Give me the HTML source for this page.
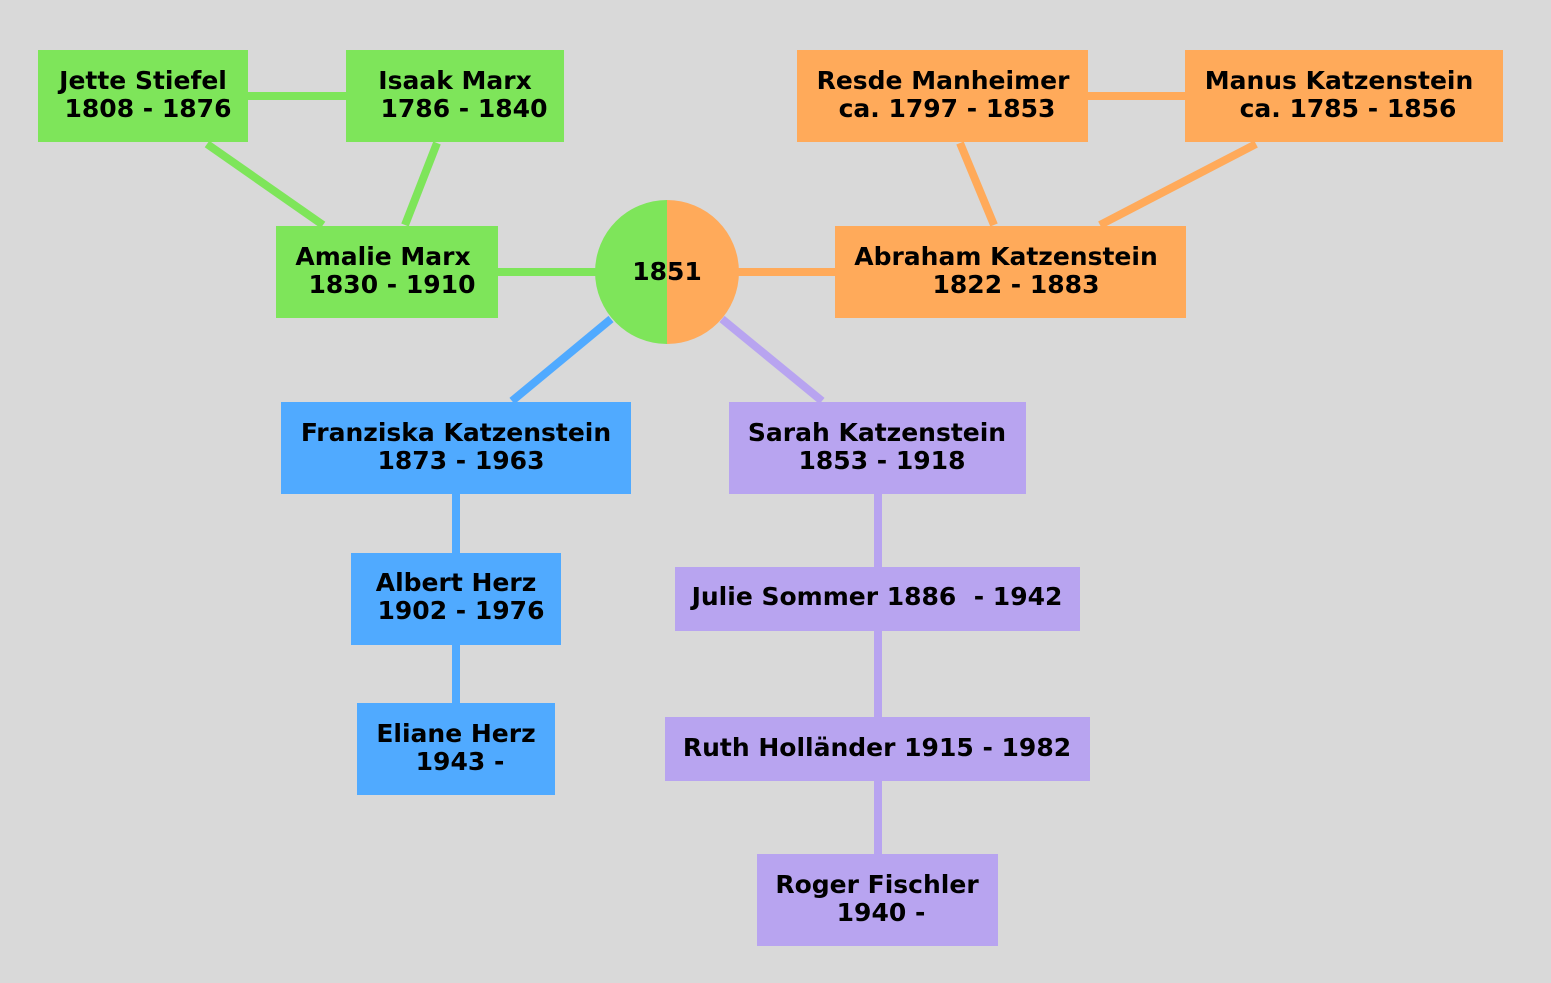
<!DOCTYPE html>
<html><head><meta charset="utf-8"><style>
html,body{margin:0;padding:0;background:#d9d9d9}
svg{display:block}
text{font-family:"DejaVu Sans","Liberation Sans",sans-serif;font-weight:bold;font-size:25px;fill:#000;text-anchor:middle}
</style></head><body>
<svg width="1551" height="983" viewBox="0 0 1551 983" xmlns="http://www.w3.org/2000/svg">
<rect width="1551" height="983" fill="#d9d9d9"/>
<g stroke-width="8" fill="none">
<line x1="248" y1="96" x2="346" y2="96" stroke="#7ee55a"/>
<line x1="207" y1="144" x2="323" y2="225" stroke="#7ee55a"/>
<line x1="437" y1="143" x2="405" y2="225" stroke="#7ee55a"/>
<line x1="498" y1="272" x2="600" y2="272" stroke="#7ee55a"/>
<line x1="735" y1="272" x2="835" y2="272" stroke="#ffaa5a"/>
<line x1="1088" y1="96" x2="1185" y2="96" stroke="#ffaa5a"/>
<line x1="960" y1="143" x2="994" y2="225" stroke="#ffaa5a"/>
<line x1="1256" y1="144" x2="1100" y2="225" stroke="#ffaa5a"/>
<line x1="611" y1="319" x2="512" y2="401" stroke="#50aaff"/>
<line x1="722" y1="319" x2="822" y2="401" stroke="#b8a4f0"/>
<line x1="456" y1="494" x2="456" y2="553" stroke="#50aaff"/>
<line x1="456" y1="645" x2="456" y2="703" stroke="#50aaff"/>
<line x1="878" y1="494" x2="878" y2="567" stroke="#b8a4f0"/>
<line x1="878" y1="631" x2="878" y2="717" stroke="#b8a4f0"/>
<line x1="878" y1="781" x2="878" y2="854" stroke="#b8a4f0"/>
</g>
<rect x="38" y="50" width="210" height="92" fill="#7ee55a"/>
<rect x="346" y="50" width="218" height="92" fill="#7ee55a"/>
<rect x="797" y="50" width="291" height="92" fill="#ffaa5a"/>
<rect x="1185" y="50" width="318" height="92" fill="#ffaa5a"/>
<rect x="276" y="226" width="222" height="92" fill="#7ee55a"/>
<rect x="835" y="226" width="351" height="92" fill="#ffaa5a"/>
<rect x="281" y="402" width="350" height="92" fill="#50aaff"/>
<rect x="729" y="402" width="297" height="92" fill="#b8a4f0"/>
<rect x="351" y="553" width="210" height="92" fill="#50aaff"/>
<rect x="357" y="703" width="198" height="92" fill="#50aaff"/>
<rect x="675" y="567" width="405" height="64" fill="#b8a4f0"/>
<rect x="665" y="717" width="425" height="64" fill="#b8a4f0"/>
<rect x="757" y="854" width="241" height="92" fill="#b8a4f0"/>
<path d="M667 200 A72 72 0 0 0 667 344 Z" fill="#7ee55a"/>
<path d="M667 200 A72 72 0 0 1 667 344 Z" fill="#ffaa5a"/>
<text x="143" y="89">Jette Stiefel</text><text x="148" y="117">1808 - 1876</text>
<text x="455" y="89">Isaak Marx</text><text x="464" y="117">1786 - 1840</text>
<text x="943" y="89">Resde Manheimer</text><text x="947" y="117">ca. 1797 - 1853</text>
<text x="1339" y="89">Manus Katzenstein</text><text x="1348" y="117">ca. 1785 - 1856</text>
<text x="383" y="265">Amalie Marx</text><text x="392" y="293">1830 - 1910</text>
<text x="1006" y="265">Abraham Katzenstein</text><text x="1016" y="293">1822 - 1883</text>
<text x="667" y="280">1851</text>
<text x="456" y="441">Franziska Katzenstein</text><text x="461" y="469">1873 - 1963</text>
<text x="877" y="441">Sarah Katzenstein</text><text x="882" y="469">1853 - 1918</text>
<text x="456" y="591">Albert Herz</text><text x="461" y="619">1902 - 1976</text>
<text x="456" y="742">Eliane Herz</text><text x="460" y="770">1943 -</text>
<text x="877" y="605" xml:space="preserve">Julie Sommer 1886  - 1942</text>
<text x="877" y="756">Ruth Holländer 1915 - 1982</text>
<text x="877" y="893">Roger Fischler</text><text x="881" y="921">1940 -</text>
</svg>
</body></html>
